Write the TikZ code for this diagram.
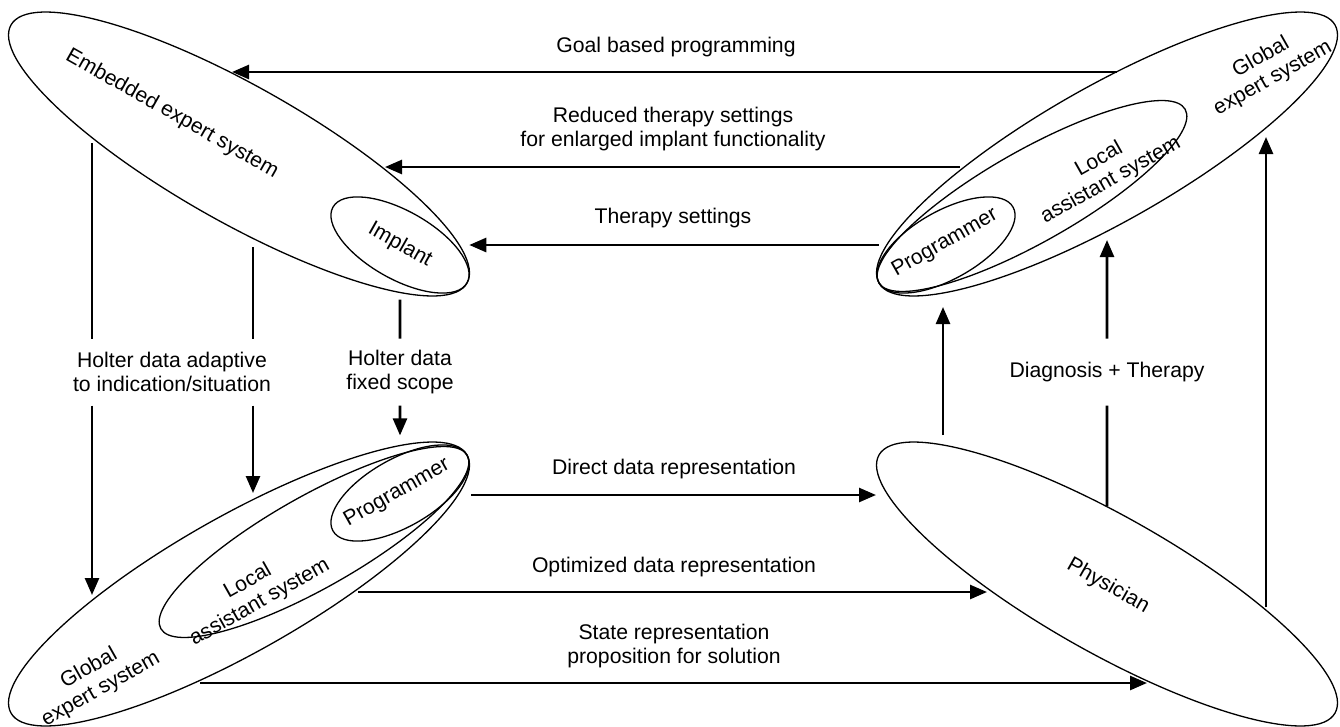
\documentclass[tikz,border=0pt]{standalone}
\usepackage{fontspec}
\setmainfont{Liberation Sans}
\usetikzlibrary{shapes.geometric,arrows.meta,calc}

\begin{document}
\begin{tikzpicture}[x=1pt, y=-1pt,
    font={\fontsize{21.2}{24}\selectfont},
    grp/.style={draw, ellipse, line width=1.3pt, inner sep=0pt},
    bigell/.style={grp, minimum width=524pt, minimum height=136pt},
    midell/.style={grp, minimum width=352pt, minimum height=92pt},
    smallell/.style={grp, minimum width=154pt, minimum height=68pt},
    txt/.style={align=center, inner sep=0pt, outer sep=0pt},
    gapbox/.style={txt, minimum height=67pt},
    seg/.style={line width=2.6pt},
    arr/.style={seg, -{Triangle[length=17pt, width=14pt]}}]

    \useasboundingbox (0,0) rectangle (1340,726);

    \node[bigell, rotate=-29.5] (emb) at (239,154) {};
    \node[smallell, rotate=-29.5] (imp) at (400,245) {};
    \node[bigell, rotate=29.5] (tglob) at (1107,154) {};
    \node[midell, rotate=29.5] (tloc) at (1032,196) {};
    \node[smallell, rotate=29.5] (tprog) at (946,245) {};
    \node[bigell, rotate=29.5] (bglob) at (239,584) {};
    \node[midell, rotate=29.5] (bloc) at (314,542) {};
    \node[smallell, rotate=29.5] (bprog) at (400,493) {};
    \node[bigell, rotate=-29.5] (phys) at (1107,584) {};

    \node[txt, rotate=-29.5] (embt) at (172,114) {Embedded expert system};
    \node[txt, rotate=-29.5] (impt) at (imp.center) {Implant};
    \node[txt, rotate=29.5] (tglobt) at (1267,68) {Global\\expert system};
    \node[txt, rotate=29.5] (tloct) at (1105,170) {Local\\assistant system};
    \node[txt, rotate=29.5] (tprogt) at (945,243) {Programmer};
    \node[txt, rotate=29.5] (bglobt) at (95,679) {Global\\expert system};
    \node[txt, rotate=29.5] (bloct) at (254,592) {Local\\assistant system};
    \node[txt, rotate=29.5] (bprogt) at (397,493) {Programmer};
    \node[txt, rotate=-29.5] (physt) at (1108,586) {Physician};

    \node[txt] (goal) at (676,47) {Goal based programming};
    \node[txt] (red) at (673,129) {Reduced therapy settings\\for enlarged implant functionality};
    \node[txt] (ther) at (673,218) {Therapy settings};
    \node[gapbox] (hda) at (172,372) {Holter data adaptive\\to indication/situation};
    \node[gapbox] (hdf) at (400,372) {Holter data\\fixed scope};
    \node[gapbox] (dt) at (1107,372) {Diagnosis + Therapy};
    \node[txt] (dir) at (674,469) {Direct data representation};
    \node[txt] (opt) at (674,567) {Optimized data representation};
    \node[txt] (st) at (674,646) {State representation\\proposition for solution};

    \draw[arr] ($(tglob)+(10,-82)$) -- ($(emb)+(-7,-82)$);
    \draw[arr] ($(tglob)+(-147,13)$) -- ($(emb)+(146,13)$);
    \draw[arr, shorten <=12pt, shorten >=14pt] (tprog) -- (imp);

    \draw[seg] ($(emb)+(-147,-11)$) coordinate (hdaL) -- (hdaL |- hda.north);
    \draw[arr] (hdaL |- hda.south) -- ($(bglob)+(-147,11)$);
    \draw[seg] ($(emb)+(14,93)$) coordinate (hdaR) -- (hdaR |- hda.north);
    \draw[arr] (hdaR |- hda.south) -- ($(bloc)+(-61,-49)$);
    \draw[seg, shorten <=16pt] (imp) -- (hdf);
    \draw[arr, shorten >=19pt] (hdf) -- (bprog);

    \draw[arr] ($(bprog)+(71,2)$) -- ($(phys)+(-231,-89)$);
    \draw[arr] ($(bloc)+(44,50)$) -- ($(phys)+(-120,8)$);
    \draw[arr] ($(bglob)+(-39,99)$) -- ($(phys)+(40,99)$);

    \draw[arr] ($(phys)+(-164,-149)$) -- ($(tprog)+(-3,62)$);
    \draw[seg] (phys) -- (dt);
    \draw[arr, shorten >=8pt] (dt) -- (tglob);
    \draw[arr] ($(phys)+(159,23)$) -- ($(tglob)+(159,-17)$);
\end{tikzpicture}
\end{document}
